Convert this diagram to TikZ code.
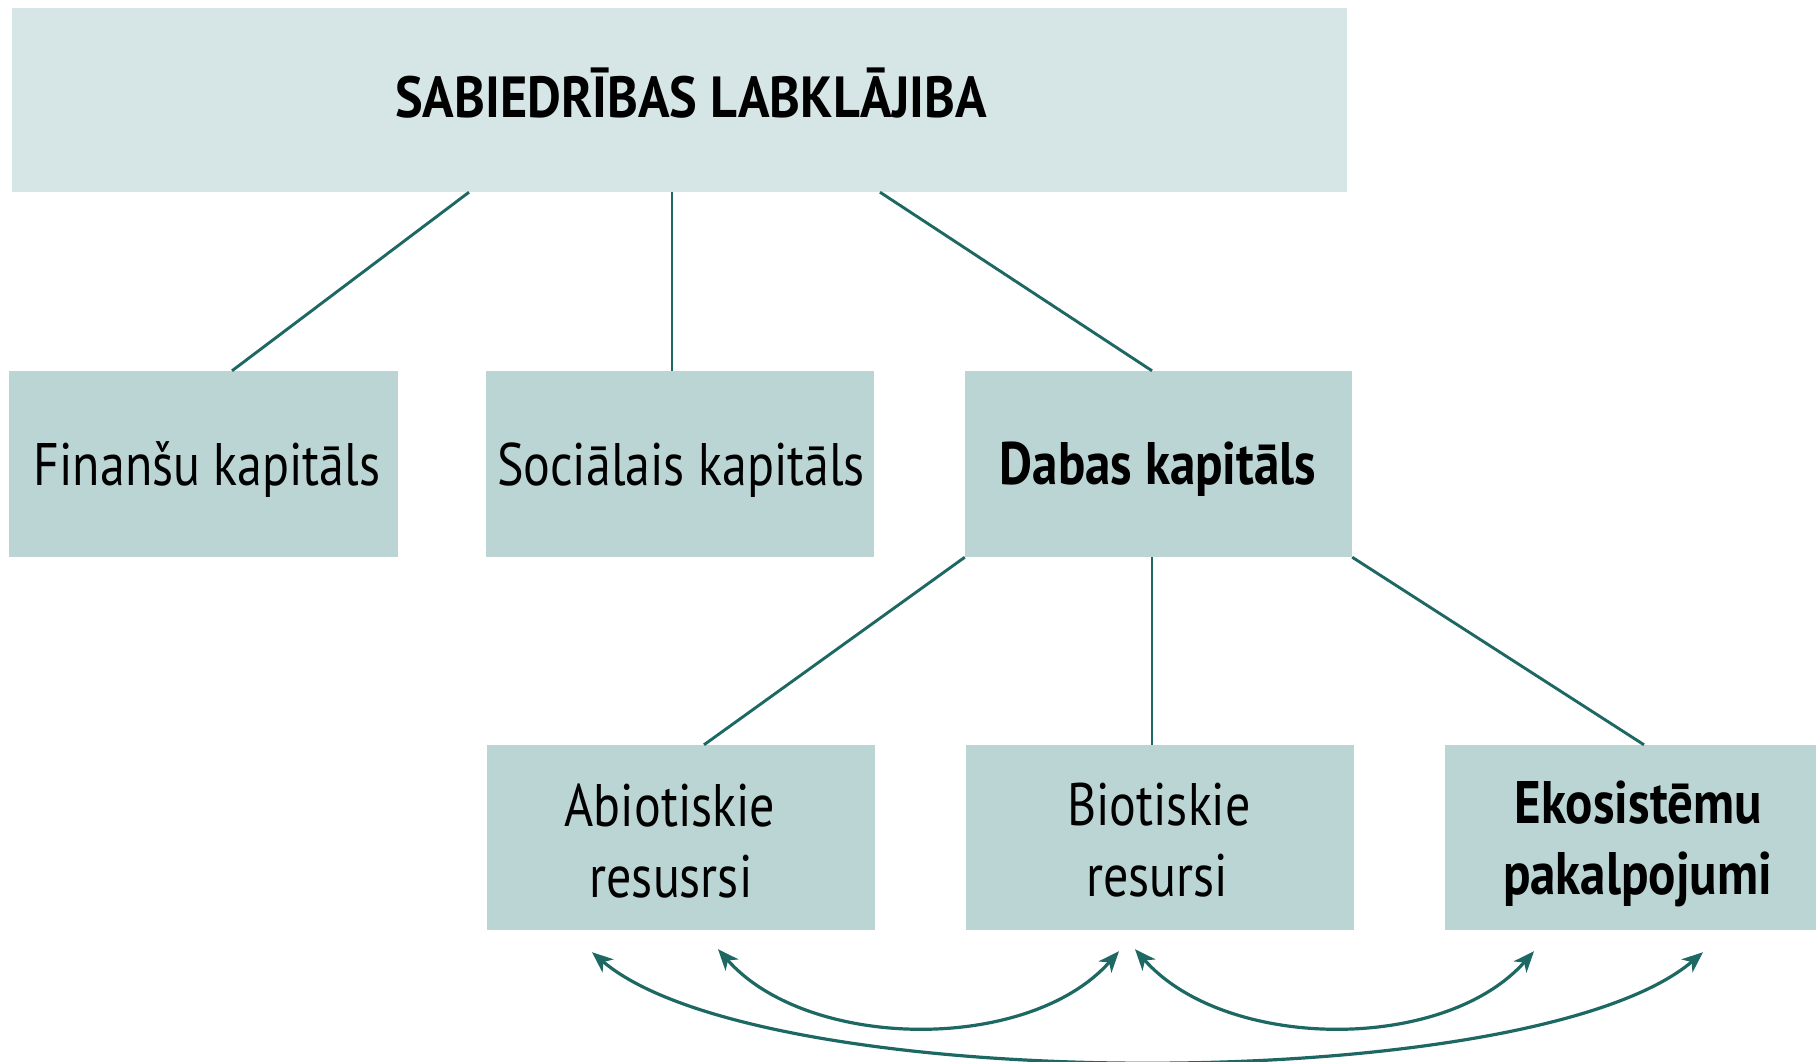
\documentclass[tikz,border=0pt]{standalone}
\usepackage{fontspec}
\setmainfont{PT Sans}
\newfontfamily\labfont[FakeStretch=0.833]{PT Sans}
\newfontfamily\labbold[FakeStretch=0.85]{PT Sans Bold}
\newfontfamily\titlefont[FakeStretch=0.90]{PT Sans Bold}
\usetikzlibrary{arrows.meta}
\definecolor{topfill}{RGB}{214,230,230}
\definecolor{boxfill}{RGB}{186,213,212}
\definecolor{teal}{RGB}{30,104,99}
\begin{document}
\begin{tikzpicture}[x=1pt,y=-1pt,
  box/.style={rectangle,fill=boxfill,inner sep=0pt,minimum height=186pt},
  txt/.style={anchor=base,inner sep=0pt,text=black,font=\labfont\fontsize{60}{73}\selectfont},
  btxt/.style={txt,font=\labbold\fontsize{60}{73}\selectfont},
  conn/.style={draw=teal,line width=2.9pt},
  tip/.style={Stealth[length=21pt,width=17pt,inset=6pt]},
  arc/.style={draw=teal,line width=3.2pt,{Stealth[length=21pt,width=17pt,inset=6pt]}-{Stealth[length=21pt,width=17pt,inset=6pt]}}]
\clip (0,0) rectangle (1816,1062);
\fill[white] (0,0) rectangle (1816,1062);
% boxes
\node[box,fill=topfill,minimum width=1335pt,minimum height=184pt] (top) at (679.5,100) {};
\node[box,minimum width=389pt] (fin) at (203,464) {};
\node[box,minimum width=388pt] (soc) at (680,464) {};
\node[box,minimum width=387pt] (dab) at (1158.5,464) {};
\node[box,minimum width=388pt,minimum height=185pt] (abi) at (681,837.5) {};
\node[box,minimum width=388pt,minimum height=185pt] (bio) at (1160,837.5) {};
\node[box,minimum width=390pt,minimum height=185pt] (eko) at (1640,837.5) {};
% texts
\node[txt,font=\titlefont\fontsize{58}{60}\selectfont] (topt) at (691,118) {SABIEDRĪBAS LABKLĀJIBA};
\node[txt] (fint) at (207,485) {Finanšu kapitāls};
\node[txt] (soct) at (681,485) {Sociālais kapitāls};
\node[btxt] (dabt) at (1158,484) {Dabas kapitāls};
\node[txt] (abit1) at (670,826) {Abiotiskie};
\node[txt] (abit2) at (671,897) {resusrsi};
\node[txt] (biot1) at (1159,825) {Biotiskie};
\node[txt] (biot2) at (1157,896) {resursi};
\node[btxt] (ekot1) at (1638.5,823) {Ekosistēmu};
\node[btxt] (ekot2) at (1637.5,894) {pakalpojumi};
% connectors
\draw[conn] ([xshift=-210.5pt]top.south) -- ([xshift=29pt]fin.north);
\draw[conn] ([xshift=-7.5pt]top.south) -- ([xshift=-8pt]soc.north);
\draw[conn] ([xshift=200.5pt]top.south) -- ([xshift=-6.5pt]dab.north);
\draw[conn] (dab.south west) -- ([xshift=23pt]abi.north);
\draw[conn] ([xshift=-6.5pt]dab.south) -- ([xshift=-8pt]bio.north);
\draw[conn] (dab.south east) -- ([xshift=4pt]eko.north);
% arcs
\draw[arc] ([xshift=37pt,yshift=-19pt]abi.south) .. controls +(90,102) and +(-90,102) .. ([xshift=-41pt,yshift=-21pt]bio.south);
\draw[arc] ([xshift=-25pt,yshift=-19pt]bio.south) .. controls +(90,102) and +(-90,102) .. ([xshift=-106pt,yshift=-21pt]eko.south);
\draw[arc] ([xshift=-89pt,yshift=-22pt]abi.south) .. controls +(170,145) and +(-170,145) .. ([xshift=63pt,yshift=-22pt]eko.south);
\end{tikzpicture}
\end{document}
